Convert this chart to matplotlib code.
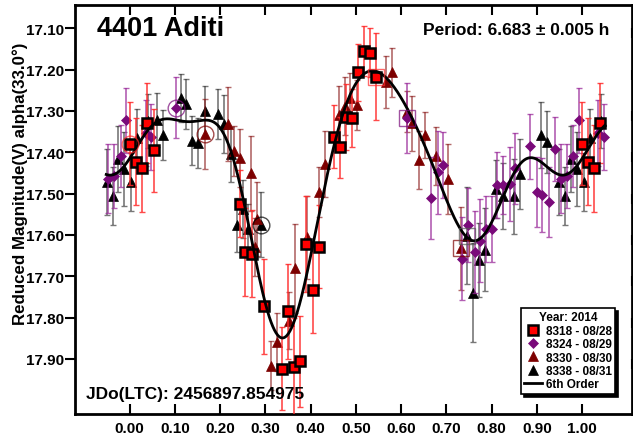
import numpy as np
import matplotlib.pyplot as plt
from matplotlib.lines import Line2D

plt.rcParams['font.family'] = ['Liberation Sans', 'DejaVu Sans']
plt.rcParams['font.weight'] = 'bold'

# phase (0..1), reduced magnitude, error  -- read from the lightcurve
ph_8318 = [0.000, 0.013, 0.027, 0.039, 0.053, 0.243, 0.255, 0.270, 0.296, 0.336, 0.350, 0.363,
           0.377, 0.390, 0.405, 0.418, 0.451, 0.465, 0.478, 0.492, 0.505, 0.517, 0.531, 0.545]
mag_8318 = [17.379, 17.423, 17.439, 17.330, 17.395, 17.524, 17.641, 17.645, 17.773, 17.923, 17.785, 17.920,
            17.906, 17.622, 17.732, 17.628, 17.362, 17.388, 17.314, 17.318, 17.207, 17.155, 17.159, 17.217]
err_8318 = [0.100, 0.105, 0.105, 0.097, 0.100, 0.080, 0.106, 0.105, 0.115, 0.100, 0.115, 0.120,
            0.110, 0.117, 0.105, 0.100, 0.075, 0.074, 0.080, 0.070, 0.068, 0.060, 0.060, 0.105]

ph_8324 = [0.035, 0.048, 0.103, 0.612, 0.666, 0.681, 0.693, 0.734, 0.748, 0.762, 0.773, 0.787,
           0.801, 0.812, 0.826, 0.840, 0.852, 0.885, 0.900, 0.912, 0.927, 0.940, 0.953, 0.966,
           0.980, 0.992]
mag_8324 = [17.354, 17.364, 17.292, 17.318, 17.511, 17.449, 17.430, 17.657, 17.576, 17.641, 17.614, 17.586,
            17.586, 17.480, 17.480, 17.477, 17.439, 17.386, 17.496, 17.503, 17.521, 17.392, 17.464, 17.457,
            17.410, 17.323]
err_8324 = [0.080, 0.080, 0.073, 0.085, 0.100, 0.100, 0.080, 0.100, 0.090, 0.100, 0.100, 0.080,
            0.080, 0.080, 0.070, 0.090, 0.085, 0.078, 0.085, 0.090, 0.085, 0.078, 0.083, 0.078,
            0.075, 0.078]

ph_8330 = [0.166, 0.217, 0.230, 0.243, 0.269, 0.276, 0.282, 0.313, 0.326, 0.353, 0.366, 0.392,
           0.419, 0.431, 0.462, 0.475, 0.487, 0.502, 0.567, 0.580, 0.612, 0.624, 0.639, 0.652,
           0.677, 0.704, 0.731]
mag_8330 = [17.356, 17.332, 17.397, 17.413, 17.451, 17.630, 17.562, 17.916, 17.858, 17.807, 17.681, 17.606,
            17.496, 17.428, 17.310, 17.289, 17.269, 17.286, 17.230, 17.207, 17.302, 17.330, 17.418, 17.358,
            17.409, 17.465, 17.632]
err_8330 = [0.085, 0.090, 0.060, 0.070, 0.090, 0.070, 0.090, 0.060, 0.070, 0.070, 0.107, 0.100,
            0.060, 0.080, 0.070, 0.070, 0.060, 0.060, 0.062, 0.060, 0.050, 0.066, 0.070, 0.055,
            0.070, 0.085, 0.100]

ph_8338 = [0.003, 0.017, 0.041, 0.060, 0.074, 0.113, 0.125, 0.138, 0.151, 0.166, 0.196, 0.208,
           0.223, 0.236, 0.250, 0.261, 0.289, 0.745, 0.758, 0.771, 0.786, 0.809, 0.824, 0.850,
           0.863, 0.909, 0.923, 0.949, 0.962, 0.975, 0.988]
mag_8338 = [17.473, 17.365, 17.325, 17.322, 17.358, 17.270, 17.284, 17.372, 17.378, 17.300, 17.308, 17.332,
            17.405, 17.576, 17.538, 17.586, 17.575, 17.602, 17.740, 17.660, 17.636, 17.489, 17.505, 17.507,
            17.453, 17.359, 17.376, 17.472, 17.505, 17.417, 17.441]
err_8338 = [0.070, 0.070, 0.065, 0.065, 0.060, 0.058, 0.060, 0.060, 0.060, 0.060, 0.060, 0.070,
            0.066, 0.065, 0.070, 0.060, 0.078, 0.117, 0.120, 0.090, 0.100, 0.070, 0.080, 0.090,
            0.085, 0.080, 0.075, 0.080, 0.070, 0.080, 0.090]

# first / last point of each session (ringed in the plot)
ring_idx = {'8318': (0, -1), '8324': (2, 3), '8330': (0, -1), '8338': (16, 17)}

series = [
    ('8318', '8318 - 08/28', ph_8318, mag_8318, err_8318,
     dict(marker='s', ms=7.5, mfc='#ff0000', mec='black', mew=1.8), '#ff2a2a', 0.85),
    ('8324', '8324 - 08/29', ph_8324, mag_8324, err_8324,
     dict(marker='D', ms=5, mfc='#7a0a7a', mec='#7a0a7a', mew=0.5), '#9a2a9a', 0.75),
    ('8330', '8330 - 08/30', ph_8330, mag_8330, err_8330,
     dict(marker='^', ms=7, mfc='#7d0000', mec='#7d0000', mew=0.5), '#8b1a1a', 0.65),
    ('8338', '8338 - 08/31', ph_8338, mag_8338, err_8338,
     dict(marker='^', ms=7, mfc='black', mec='black', mew=0.5), '#303030', 0.65),
]

lo, hi = -0.052, 1.05


def wrap(ph, mag, err):
    ph, mag, err = map(np.asarray, (ph, mag, err))
    out_p, out_m, out_e = [ph], [mag], [err]
    for shift in (1.0, -1.0):
        p = ph + shift
        k = (p >= lo) & (p <= hi)
        out_p.append(p[k]); out_m.append(mag[k]); out_e.append(err[k])
    return np.concatenate(out_p), np.concatenate(out_m), np.concatenate(out_e)


fig = plt.figure(figsize=(6.33, 4.39), dpi=100)
ax = fig.add_axes([75 / 633, 1 - 415 / 439, 557 / 633, 409 / 439])

# draw order: black, dark red, purple, red on top
zo = {'8338': 3, '8330': 4, '8324': 5, '8318': 6}
for key, label, ph, mag, err, mk, ecol, ealpha in series:
    p, m, e = wrap(ph, mag, err)
    ax.errorbar(p, m, yerr=e, fmt='none', ecolor=ecol, alpha=ealpha, elinewidth=1.2,
                capsize=2.5, capthick=1.0, zorder=zo[key])
    ax.plot(p, m, ls='none', zorder=zo[key] + 0.5, **mk)
    col = mk['mfc'] if key != '8318' else '#ff2a2a'
    i0, i1 = ring_idx[key]
    ax.plot(ph[i0], mag[i0], 'o', ms=12, mfc='none', mec=col, mew=1.0, alpha=0.7, zorder=8)
    ax.plot(ph[i1], mag[i1], 's', ms=12, mfc='none', mec=col if key != '8338' else '#555555',
            mew=1.0, alpha=0.7, zorder=8)

# 6th order Fourier fit
all_p = np.concatenate([ph_8318, ph_8324, ph_8330, ph_8338])
all_m = np.concatenate([mag_8318, mag_8324, mag_8330, mag_8338])
all_e = np.concatenate([err_8318, err_8324, err_8330, err_8338])


def design(x, order=6):
    cols = [np.ones_like(x)]
    for k in range(1, order + 1):
        cols += [np.cos(2 * np.pi * k * x), np.sin(2 * np.pi * k * x)]
    return np.column_stack(cols)


A = design(all_p) / all_e[:, None]
coef, *_ = np.linalg.lstsq(A, all_m / all_e, rcond=None)
xf = np.linspace(lo, hi, 600)
ax.plot(xf, design(xf) @ coef, color='black', lw=2, zorder=7)

ax.set_xlim(-0.121, 1.11)
ax.set_ylim(18.033, 17.044)
ax.set_xticks(np.arange(0, 1.001, 0.1))
ax.set_xticklabels([f'{v:.2f}' for v in np.arange(0, 1.001, 0.1)])
ax.set_yticks(np.arange(17.1, 17.901, 0.1))
ax.set_yticklabels([f'{v:.2f}' for v in np.arange(17.1, 17.901, 0.1)])
ax.tick_params(axis='x', which='major', direction='in', top=True, length=7, width=1.5,
               labelsize=11, pad=5)
ax.tick_params(axis='y', which='major', direction='out', length=7, width=1.5,
               labelsize=11, pad=1)
ax.tick_params(axis='y', which='major', right=True)
for t in ax.yaxis.get_major_ticks():
    t.tick2line.set_marker(3)  # inward on the right side
for lab in ax.get_xticklabels() + ax.get_yticklabels():
    lab.set_fontweight('bold')
for s in ax.spines.values():
    s.set_linewidth(2)

fig.text(20 / 633, 1 - 184 / 439, 'Reduced Magnitude(V) alpha(33.0°)', rotation=90,
         ha='center', va='center', fontsize=12.2, fontweight='bold')

ax.text(0.0395, 0.944, '4401 Aditi', transform=ax.transAxes, fontsize=19.5,
        fontweight='bold', va='center', ha='left')
ax.text(0.9587, 0.939, 'Period: 6.683 ± 0.005 h', transform=ax.transAxes, fontsize=12.5,
        fontweight='bold', va='center', ha='right')
ax.text(0.0197, 0.049, 'JDo(LTC): 2456897.854975', transform=ax.transAxes, fontsize=12.5,
        fontweight='bold', va='center', ha='left', zorder=10)

handles = [Line2D([], [], ls='none', **s[5]) for s in series]
handles.append(Line2D([], [], color='black', lw=2))
labels = [s[1] for s in series] + ['6th Order']
leg = ax.legend(handles, labels, title='Year: 2014', loc='lower right',
                bbox_to_anchor=(0.97, 0.049), borderaxespad=0, fancybox=False,
                shadow={'color': 'black', 'alpha': 1}, framealpha=1,
                prop={'size': 8.5, 'weight': 'bold'}, title_fontproperties={'size': 8.5, 'weight': 'bold'},
                handlelength=1.5, handletextpad=0.3, borderpad=0.3, labelspacing=0.12)
leg.get_frame().set_edgecolor('black')
leg.get_frame().set_linewidth(1.2)
leg.set_zorder(20)

fig.savefig('out.png', dpi=100)
